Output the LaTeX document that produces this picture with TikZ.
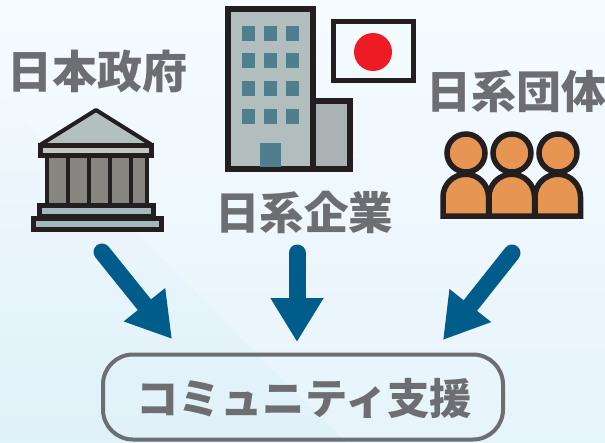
\documentclass[tikz,border=0pt]{standalone}
\usepackage{fontspec}
\setmainfont{Noto Sans CJK JP}[BoldFont={Noto Sans CJK JP Black}]
\usetikzlibrary{arrows.meta}
\definecolor{txt}{HTML}{6D6E71}
\definecolor{ink}{HTML}{231F20}
\definecolor{arr}{HTML}{005C8A}
\definecolor{winc}{HTML}{4F7F8C}
\definecolor{orangeb}{HTML}{E79552}
\definecolor{bgtop}{HTML}{F6FBFF}
\definecolor{bgbot}{HTML}{E6F4FB}
\definecolor{bandtop}{HTML}{F1F8FD}
\definecolor{bandbot}{HTML}{DFF1F9}
\definecolor{roofc}{HTML}{B4C0BF}
\definecolor{colc}{HTML}{878580}
\definecolor{barc}{HTML}{C3C8C0}
\definecolor{stepc}{HTML}{A5B9BC}
\definecolor{annex}{HTML}{AAB2B4}
\definecolor{tower}{HTML}{B2BEBE}
\definecolor{flagc}{HTML}{F3FAFE}
\definecolor{sun}{HTML}{ED1C24}
\tikzset{
 lab/.style={font=\bfseries\fontsize{45}{45}\selectfont,text=txt,inner sep=0pt},
 flow/.style={draw=arr,line width=17pt,line cap=round,-{Triangle[length=44pt,width=50pt]}},
 iconline/.style={draw=ink,line width=5pt,line join=miter},
 winbox/.style={fill=winc,draw=none},
 person/.style={draw=ink,fill=orangeb,line width=5.5pt}
}
\begin{document}
\begin{tikzpicture}[x=1pt,y=-1pt]
\useasboundingbox (0,0) rectangle (605,442);
% background
\shade[shading=axis,shading angle=0,top color=bgtop,bottom color=bgbot] (0,0) rectangle (605,442);
\shade[top color=bandtop,bottom color=bandbot] (0,97) -- (345,442) -- (0,442) -- cycle;

% government building
\draw[fill=roofc,draw=ink,line width=4pt,line join=round] (96,110) -- (152,145) -- (40,145) -- cycle;
\fill[colc] (45,157) rectangle (147,205);
\foreach \c in {47,68,89,110,131,147}{\fill[ink] (\c-2,157) rectangle (\c+2,205);}
\draw[iconline,fill=barc] (40.5,145.5) rectangle (151.5,155);
\draw[iconline,fill=stepc] (39.5,205.5) rectangle (153.5,216);
\draw[iconline,fill=stepc] (33.5,218.5) rectangle (161.5,229.5);

% office tower
\draw[draw=ink,line width=6pt,fill=annex] (313,101) -- (350,101) -- (350,169) -- (313,169) -- cycle;
\draw[draw=ink,line width=6pt,fill=tower] (228,9) rectangle (313,169);
\foreach \x in {242,264,286}{\foreach \y in {26,53,81,109}{\fill[winbox] (\x,\y) rectangle (\x+13,\y+15);}}
\fill[winbox] (260,143) rectangle (281,167);

% flag
\draw[draw=ink,line width=5pt,fill=flagc] (333.5,21.5) rectangle (413.5,80.5);
\fill[sun] (373,52) circle[radius=19];

% people
\foreach \x in {443,489,535}{
 \draw[person] (\x,216) -- (\x,197) arc[start angle=180,end angle=360,radius=22.75] -- (\x+45.5,216) -- cycle;
}
\foreach \x in {466,512,558}{\draw[person] (\x,153) circle[radius=19];}

% labels
\node[lab] (gov) at (98,71) {日本政府};
\node[lab,font=\bfseries\fontsize{44.5}{44.5}\selectfont] (corp) at (304,212) {日系企業};
\node[lab] (grp) at (516,91) {日系団体};

% goal
\node[draw=txt,line width=4pt,rounded corners=30pt,minimum width=400pt,minimum height=85pt,inner sep=0pt] (goal) at (303,397) {};
\node[font=\bfseries\fontsize{42.3}{42.3}\selectfont,text=txt,inner sep=0pt] (goalt) at (304,398) {コミュニティ支援};

% arrows
\coordinate (a1s) at (102,252); \coordinate (a1e) at (172,339);
\coordinate (a2s) at (297,253); \coordinate (a2e) at (297,342);
\coordinate (a3s) at (512,253); \coordinate (a3e) at (443,340);
\draw[flow] (a1s) -- (a1e);
\draw[flow] (a2s) -- (a2e);
\draw[flow] (a3s) -- (a3e);
\end{tikzpicture}
\end{document}
